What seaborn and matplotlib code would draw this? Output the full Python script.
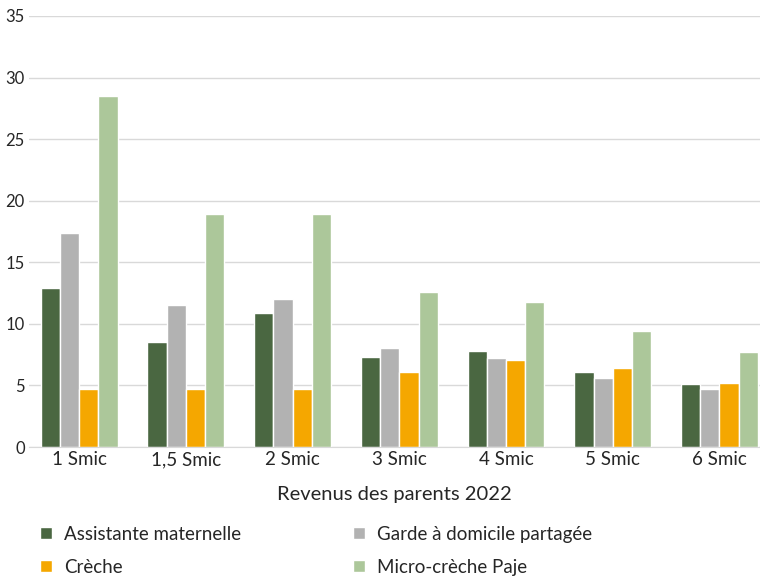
import pandas as pd
import matplotlib
matplotlib.use("Agg")
import matplotlib.pyplot as plt
import seaborn as sns

# valeurs
categories = ["1 Smic", "1,5 Smic", "2 Smic", "3 Smic", "4 Smic", "5 Smic", "6 Smic"]
modes = ["Assistante maternelle", "Garde à domicile partagée", "Crèche", "Micro-crèche Paje"]
assistante = [12.9, 8.5, 10.9, 7.3, 7.8, 6.1, 5.1]
garde = [17.4, 11.5, 12.0, 8.0, 7.2, 5.6, 4.7]
creche = [4.7, 4.7, 4.7, 6.1, 7.1, 6.4, 5.2]
micro = [28.5, 18.9, 18.9, 12.6, 11.8, 9.4, 7.7]
colors = ["#4a6741", "#b2b2b2", "#f5a700", "#acc79a"]

rows = []
for mode, vals in zip(modes, [assistante, garde, creche, micro]):
    for cat, v in zip(categories, vals):
        rows.append({"revenu": cat, "mode": mode, "cout": v})
df = pd.DataFrame(rows)

sns.set_style("white")
plt.rcParams['font.family'] = ['Lato', 'DejaVu Sans']

fig = plt.figure(figsize=(7.6, 5.78), dpi=100)
ax = fig.add_axes([29 / 760, 1 - 447 / 578, 1 - 29 / 760, (447 - 16) / 578])

sns.barplot(data=df, x="revenu", y="cout", hue="mode", order=categories,
            hue_order=modes, palette=colors, saturation=1, width=0.72,
            edgecolor="white", linewidth=1, ax=ax)

ax.set_xlim(-0.47, 6.38)
ax.set_ylim(0, 35)
ax.set_yticks(range(0, 36, 5))
ax.yaxis.grid(True, color="#d9d9d9", linewidth=1)
ax.set_axisbelow(True)
for side in ["top", "right", "left"]:
    ax.spines[side].set_visible(False)
ax.spines["bottom"].set_color("#d9d9d9")
ax.tick_params(axis="both", length=0, colors="#262626")
ax.tick_params(axis="y", pad=3, labelsize=12)
ax.tick_params(axis="x", pad=3, labelsize=13.5)
ax.set_ylabel("")
ax.set_xlabel("Revenus des parents 2022", fontsize=14.5, color="#262626", labelpad=13)

handles, labels = ax.get_legend_handles_labels()
ax.get_legend().remove()
order = [0, 2, 1, 3]
fig.legend([handles[i] for i in order], [labels[i] for i in order],
           loc="upper left", bbox_to_anchor=(40 / 760, 1 - 526 / 578),
           ncol=2, frameon=False, fontsize=13.5, handlelength=0.62,
           handleheight=0.62, handletextpad=0.65, labelspacing=0.85,
           columnspacing=6.0, borderpad=0, borderaxespad=0,
           labelcolor="#262626")

fig.savefig("out.png", dpi=100)
